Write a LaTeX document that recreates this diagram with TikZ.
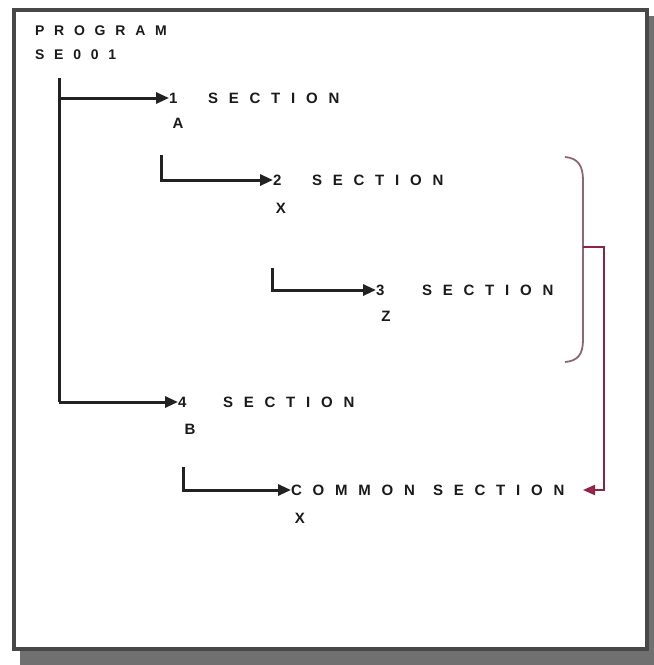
\documentclass[tikz,border=0pt]{standalone}
\usepackage{fontspec}
\setmainfont{Liberation Sans}
\newfontfamily\lbl{Liberation Sans Bold}[LetterSpace=72]
\newfontfamily\hdr{Liberation Sans Bold}[LetterSpace=70]
\usetikzlibrary{arrows.meta}
\definecolor{linec}{HTML}{222222}
\definecolor{txt}{HTML}{1A1A1A}
\definecolor{framec}{HTML}{484848}
\definecolor{shadowc}{HTML}{707070}
\definecolor{bracec}{HTML}{8E6676}
\definecolor{redc}{HTML}{8C2446}
\definecolor{redtip}{HTML}{B8203E}
\begin{document}
\begin{tikzpicture}[x=1pt,y=-1pt,
  conn/.style={draw=linec, line width=3pt},
  tipb/.style={-{Triangle[length=13pt,width=11pt]}},
  lab/.style={font=\lbl\fontsize{15}{15}\selectfont, text=txt, inner sep=0pt, outer sep=0pt, anchor=west},
  hlab/.style={font=\hdr\fontsize{14}{14}\selectfont, text=txt, inner sep=0pt, outer sep=0pt, anchor=west},
  sub/.style={font=\lbl\fontsize{15}{15}\selectfont, text=txt, inner sep=0pt, outer sep=0pt},
  redline/.style={draw=redc, line width=2pt}]
\useasboundingbox (0,0) rectangle (654,665);
% frame with shadow
\fill[shadowc] (20,16) rectangle (654,665);
\draw[framec, line width=3.6pt, fill=white] (14,10) rectangle (647,649);
% header
\node[hlab] (prog) at (35,31) {PROGRAM};
\node[hlab] (se) at (35,55) {SE001};
% section labels
\node[lab] (n1) at (169,98) {1};
\node[lab] (w1) at (208,98) {SECTION};
\node[sub] (a1) at (178,123) {A};
\node[lab] (n2) at (273,180) {2};
\node[lab] (w2) at (312,180) {SECTION};
\node[sub] (a2) at (281,208) {X};
\node[lab] (n3) at (376,290) {3};
\node[lab] (w3) at (422,290) {SECTION};
\node[sub] (a3) at (386,316) {Z};
\node[lab] (n4) at (178,402) {4};
\node[lab] (w4) at (223,402) {SECTION};
\node[sub] (a4) at (190,429) {B};
\node[lab] (n5) at (291,490) {COMMON};
\node[lab] (w5) at (433,490) {SECTION};
\node[sub] (a5) at (300,518) {X};
% connectors
\coordinate (m0) at (59,78);
\coordinate (m1) at (59,402);
\draw[conn] (m0) -- (m1);
\draw[conn,tipb] (m0 |- n1.west) -- (n1.west);
\draw[conn,tipb] (m1) -- (n4.west);
\coordinate (c2) at (161,155);
\draw[conn,tipb] (c2) |- (n2.west);
\coordinate (c3) at (272,268);
\draw[conn,tipb] (c3) |- (n3.west);
\coordinate (c5) at (183,467);
\draw[conn,tipb] (c5) |- (n5.west);
% red bracket and arrow
\coordinate (bt) at (565,157);
\coordinate (bb) at (565,362);
\coordinate (r1) at (583,247);
\coordinate (rt) at (583,490);
\draw[draw=bracec, line width=1.8pt] (bt) .. controls (578,158) and (583,166) .. (583,180) -- (583,340) .. controls (583,354) and (578,361) .. (bb);
\draw[redline,-{Triangle[length=12pt,width=10pt,fill=redtip]}] (r1) -- (604,247) |- (rt);
\end{tikzpicture}
\end{document}
